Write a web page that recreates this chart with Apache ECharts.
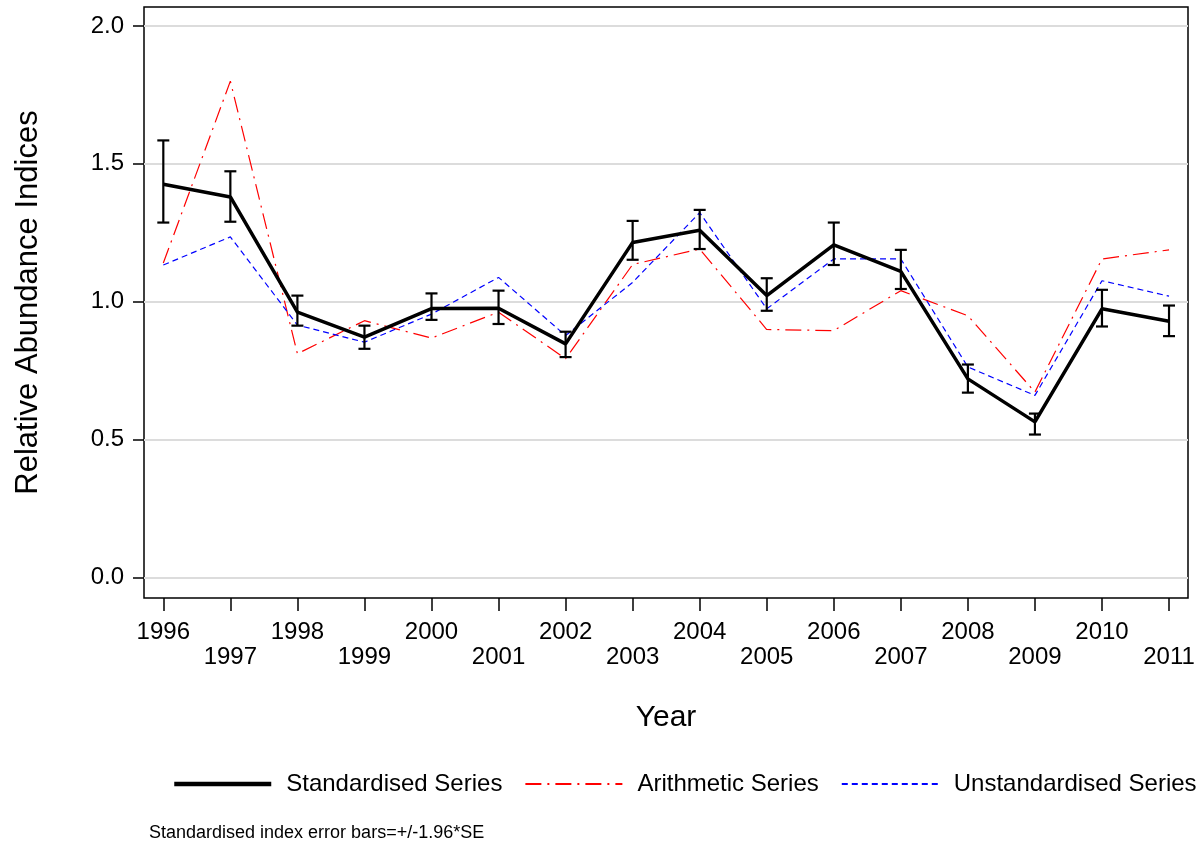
<!DOCTYPE html>
<html>
<head>
<meta charset="utf-8">
<script src="https://cdn.jsdelivr.net/npm/echarts@6/dist/echarts.min.js"></script>
<style>
  html, body { margin: 0; padding: 0; background: #fff; }
  #chart { width: 1203px; height: 847px; }
</style>
</head>
<body>
<div id="chart"></div>
<script>
const years = [1996, 1997, 1998, 1999, 2000, 2001, 2002, 2003, 2004, 2005, 2006, 2007, 2008, 2009, 2010, 2011];
const standardised = [1.426, 1.380, 0.962, 0.871, 0.975, 0.976, 0.847, 1.215, 1.259, 1.022, 1.206, 1.110, 0.720, 0.564, 0.974, 0.929];
const stdUpper = [1.585, 1.473, 1.022, 0.913, 1.030, 1.040, 0.891, 1.293, 1.333, 1.085, 1.287, 1.188, 0.772, 0.594, 1.043, 0.986];
const stdLower = [1.287, 1.290, 0.913, 0.829, 0.934, 0.919, 0.799, 1.152, 1.191, 0.967, 1.133, 1.046, 0.670, 0.518, 0.910, 0.875];
const arithmetic = [1.140, 1.800, 0.811, 0.931, 0.868, 0.962, 0.793, 1.135, 1.191, 0.899, 0.895, 1.040, 0.949, 0.672, 1.155, 1.188];
const unstandardised = [1.133, 1.235, 0.915, 0.853, 0.955, 1.088, 0.877, 1.070, 1.323, 0.974, 1.155, 1.155, 0.763, 0.660, 1.076, 1.020];
const yTicks = [0, 0.5, 1.0, 1.5, 2.0];

const font = "'Liberation Sans', Arial, sans-serif";
const chart = echarts.init(document.getElementById('chart'));

const pair = arr => years.map((y, i) => [y, arr[i]]);

chart.setOption({
  animation: false,
  textStyle: { fontFamily: font, color: '#000' },
  grid: {
    left: 144, right: 15, top: 7, bottom: 249,
    show: true, borderColor: '#000', borderWidth: 1.5
  },
  xAxis: {
    type: 'value',
    min: 1995.712,
    max: 2011.283,
    name: 'Year',
    nameLocation: 'middle',
    nameGap: 105,
    nameTextStyle: { fontSize: 30, color: '#000', fontFamily: font },
    axisLine: { show: false, onZero: false },
    axisTick: { show: true, customValues: years, length: 13, lineStyle: { color: '#000', width: 1.5 } },
    axisLabel: {
      customValues: years,
      margin: 22,
      fontSize: 24,
      lineHeight: 25,
      color: '#000',
      fontFamily: font,
      formatter: v => (v % 2 ? '\n' + v : '' + v)
    },
    splitLine: { show: false }
  },
  yAxis: {
    type: 'value',
    min: -0.075,
    max: 2.069,
    name: 'Relative Abundance Indices',
    nameLocation: 'middle',
    nameGap: 100,
    nameRotate: 90,
    nameTextStyle: { fontSize: 31, color: '#000', fontFamily: font },
    axisLine: { show: false, onZero: false },
    axisTick: { show: true, customValues: yTicks, length: 11, lineStyle: { color: '#000', width: 1.5 } },
    axisLabel: {
      customValues: yTicks,
      margin: 20,
      fontSize: 24,
      color: '#000',
      fontFamily: font,
      formatter: v => v.toFixed(1)
    },
    splitLine: { show: true, lineStyle: { color: '#dcdcdc', width: 2 } }
  },
  legend: {
    data: [
      { name: 'Standardised Series', lineStyle: { width: 4.5 } },
      { name: 'Arithmetic Series' },
      { name: 'Unstandardised Series' }
    ],
    left: 167,
    top: 767,
    itemWidth: 97,
    itemHeight: 14,
    itemGap: 22,
    itemStyle: { color: 'transparent', borderWidth: 0, opacity: 0 },
    textStyle: { fontSize: 24, color: '#000', fontFamily: font, padding: [0, 0, 0, 10] }
  },
  graphic: [{
    type: 'text',
    left: 149,
    top: 824,
    style: { text: 'Standardised index error bars=+/-1.96*SE', fontSize: 18, fill: '#000', fontFamily: font }
  }],
  series: [
    {
      name: 'Arithmetic Series',
      type: 'line',
      data: pair(arithmetic),
      symbol: 'none',
      z: 2,
      lineStyle: { color: '#ff0000', width: 1.2, type: [16, 6, 2, 6] },
      itemStyle: { color: '#ff0000' }
    },
    {
      name: 'Unstandardised Series',
      type: 'line',
      data: pair(unstandardised),
      symbol: 'none',
      z: 3,
      lineStyle: { color: '#0000ff', width: 1.2, type: [6, 4] },
      itemStyle: { color: '#0000ff' }
    },
    {
      name: 'Standardised Series',
      type: 'line',
      data: pair(standardised),
      symbol: 'none',
      z: 4,
      lineStyle: { color: '#000', width: 3.5 },
      itemStyle: { color: '#000' }
    },
    {
      name: 'error',
      type: 'custom',
      z: 5,
      data: years.map((y, i) => [y, stdLower[i], stdUpper[i]]),
      encode: { x: 0, y: [1, 2] },
      renderItem: function (params, api) {
        const lo = api.coord([api.value(0), api.value(1)]);
        const hi = api.coord([api.value(0), api.value(2)]);
        const w = 6;
        const style = { stroke: '#000', lineWidth: 2.2 };
        return {
          type: 'group',
          children: [
            { type: 'line', shape: { x1: lo[0], y1: lo[1], x2: hi[0], y2: hi[1] }, style: style },
            { type: 'line', shape: { x1: lo[0] - w, y1: lo[1], x2: lo[0] + w, y2: lo[1] }, style: style },
            { type: 'line', shape: { x1: hi[0] - w, y1: hi[1], x2: hi[0] + w, y2: hi[1] }, style: style }
          ]
        };
      }
    }
  ]
});

window.addEventListener('resize', function () {
  chart.resize();
});
</script>
</body>
</html>
